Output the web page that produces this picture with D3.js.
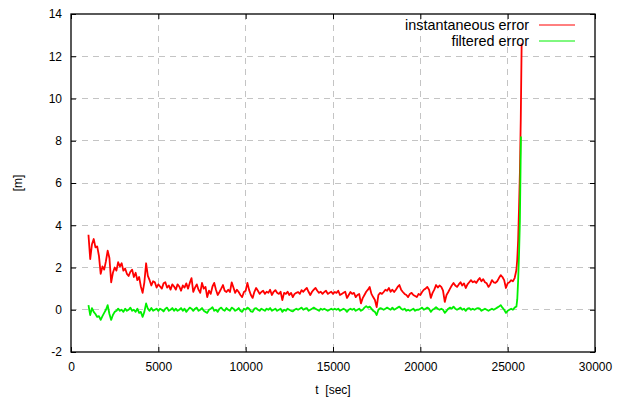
<!DOCTYPE html>
<html>
<head>
<meta charset="utf-8">
<script src="https://cdn.jsdelivr.net/npm/d3@7"></script>
<style>
  body { margin: 0; background: #fff; }
  svg { display: block; font-family: "Liberation Sans", Arial, sans-serif; }
</style>
</head>
<body>
<svg id="chart" width="624" height="403"></svg>
<script>
// sample times (sec), shared by both error series
const time = [
  1000, 1100, 1200, 1300, 1400, 1500, 1600, 1700, 1800, 1900,
  2000, 2100, 2200, 2300, 2400, 2500, 2600, 2700, 2800, 2900,
  3000, 3100, 3200, 3300, 3400, 3500, 3600, 3700, 3800, 3900,
  4000, 4100, 4200, 4300, 4400, 4500, 4600, 4700, 4800, 4900,
  5000, 5100, 5200, 5300, 5400, 5500, 5600, 5700, 5800, 5900,
  6000, 6100, 6200, 6300, 6400, 6500, 6600, 6700, 6800, 6900,
  7000, 7100, 7200, 7300, 7400, 7500, 7600, 7700, 7800, 7900,
  8000, 8100, 8200, 8300, 8400, 8500, 8600, 8700, 8800, 8900,
  9000, 9100, 9200, 9300, 9400, 9500, 9600, 9700, 9800, 9900,
  10000, 10100, 10200, 10300, 10400, 10500, 10600, 10700, 10800, 10900,
  11000, 11100, 11200, 11300, 11400, 11500, 11600, 11700, 11800, 11900,
  12000, 12100, 12200, 12300, 12400, 12500, 12600, 12700, 12800, 12900,
  13000, 13100, 13200, 13300, 13400, 13500, 13600, 13700, 13800, 13900,
  14000, 14100, 14200, 14300, 14400, 14500, 14600, 14700, 14800, 14900,
  15000, 15100, 15200, 15300, 15400, 15500, 15600, 15700, 15800, 15900,
  16000, 16100, 16200, 16300, 16400, 16500, 16600, 16700, 16800, 16900,
  17000, 17100, 17200, 17300, 17400, 17500, 17600, 17700, 17800, 17900,
  18000, 18100, 18200, 18300, 18400, 18500, 18600, 18700, 18800, 18900,
  19000, 19100, 19200, 19300, 19400, 19500, 19600, 19700, 19800, 19900,
  20000, 20100, 20200, 20300, 20400, 20500, 20600, 20700, 20800, 20900,
  21000, 21100, 21200, 21300, 21400, 21500, 21600, 21700, 21800, 21900,
  22000, 22100, 22200, 22300, 22400, 22500, 22600, 22700, 22800, 22900,
  23000, 23100, 23200, 23300, 23400, 23500, 23600, 23700, 23800, 23900,
  24000, 24100, 24200, 24300, 24400, 24500, 24600, 24700, 24800, 24900,
  25000, 25100, 25200, 25300, 25400, 25500
]

const instantaneousError = [
  3.55, 2.40, 3.10, 3.35, 2.95, 3.00, 2.55, 1.70, 2.05, 1.90,
  2.30, 2.80, 2.45, 1.30, 1.75, 2.00, 1.85, 2.25, 2.05, 2.20,
  1.85, 1.95, 1.70, 1.60, 1.80, 1.90, 1.55, 1.75, 1.40, 1.55,
  1.10, 0.80, 1.30, 2.20, 1.60, 1.40, 1.15, 1.35, 1.30, 1.05,
  1.20, 1.10, 1.00, 1.25, 1.30, 1.05, 1.15, 0.95, 1.20, 1.10,
  0.95, 1.20, 1.10, 0.90, 1.15, 1.05, 1.25, 1.00, 1.27, 1.50,
  0.85, 1.05, 1.20, 0.95, 0.80, 1.27, 1.00, 1.08, 0.60, 0.90,
  0.75, 1.10, 1.27, 0.95, 0.70, 0.84, 1.00, 1.17, 0.90, 0.84,
  0.95, 0.84, 1.30, 1.05, 0.80, 0.95, 0.84, 0.70, 0.60, 0.84,
  0.90, 1.27, 0.93, 0.70, 0.56, 0.85, 1.03, 0.90, 0.75, 0.84,
  0.90, 0.75, 0.85, 0.80, 0.95, 0.70, 0.85, 0.93, 0.80, 0.75,
  0.85, 0.46, 0.80, 0.75, 0.85, 0.70, 0.80, 0.60, 0.75, 0.80,
  0.84, 0.75, 0.93, 0.85, 0.95, 1.03, 0.85, 0.70, 0.85, 0.95,
  1.03, 0.90, 0.80, 0.85, 0.75, 0.84, 0.90, 0.75, 0.80, 0.85,
  0.75, 0.84, 0.80, 0.90, 0.70, 0.75, 0.80, 0.85, 0.56, 0.70,
  0.84, 0.75, 0.80, 0.60, 0.70, 0.75, 0.30, 0.55, 0.70, 0.85,
  0.95, 1.08, 0.75, 0.60, 0.46, 0.13, 0.70, 0.80, 0.75, 0.84,
  0.95, 0.90, 1.03, 0.85, 0.95, 0.84, 0.95, 1.08, 1.17, 0.95,
  0.84, 0.75, 0.70, 0.60, 0.75, 0.80, 0.70, 0.65, 0.60, 0.75,
  0.70, 0.84, 0.95, 1.00, 1.08, 0.95, 0.56, 0.80, 0.95, 1.17,
  1.05, 1.15, 1.08, 0.90, 0.37, 0.70, 0.84, 1.00, 1.15, 1.27,
  1.15, 1.08, 1.20, 1.30, 1.15, 1.25, 1.03, 1.20, 1.30, 1.40,
  1.30, 1.35, 1.27, 1.40, 1.50, 1.35, 1.45, 1.30, 1.25, 1.08,
  1.20, 1.40, 1.30, 1.27, 1.35, 1.50, 1.64, 1.55, 1.40, 1.03,
  1.25, 1.30, 1.40, 1.35, 1.50, 1.88
]

const filteredError = [
  0.22, -0.25, 0.08, -0.10, -0.20, -0.34, -0.30, -0.48, -0.30, -0.15,
  0.00, 0.22, -0.20, -0.48, -0.25, -0.10, -0.05, 0.05, -0.05, 0.00,
  -0.10, 0.05, -0.05, 0.00, 0.10, -0.05, 0.00, -0.10, 0.05, -0.15,
  -0.10, -0.34, -0.10, 0.30, 0.05, -0.05, 0.08, -0.05, 0.00, 0.05,
  -0.05, 0.05, 0.00, -0.08, 0.05, 0.10, -0.05, 0.00, 0.08, -0.05,
  0.05, -0.05, 0.00, 0.08, -0.05, 0.05, -0.10, 0.00, 0.10, 0.05,
  -0.05, 0.05, 0.10, -0.05, 0.00, 0.08, -0.05, -0.10, -0.15, 0.00,
  0.05, 0.12, -0.05, 0.00, -0.10, 0.05, 0.10, 0.00, -0.05, 0.08,
  0.00, -0.05, 0.10, 0.05, -0.05, 0.00, 0.08, -0.05, -0.10, 0.05,
  0.00, 0.10, 0.05, -0.08, -0.10, 0.05, 0.08, 0.00, -0.05, 0.05,
  0.00, -0.05, 0.05, 0.00, 0.08, -0.05, 0.00, 0.05, -0.05, 0.00,
  0.05, -0.10, 0.00, -0.05, 0.05, 0.00, -0.05, -0.08, 0.00, 0.05,
  0.00, 0.05, 0.10, 0.00, 0.05, 0.08, -0.05, 0.00, 0.05, 0.10,
  0.05, 0.00, -0.05, 0.05, 0.00, 0.05, 0.00, -0.05, 0.00, 0.05,
  0.00, 0.05, 0.00, 0.05, -0.05, 0.00, 0.05, 0.00, -0.10, 0.00,
  0.05, 0.00, 0.05, -0.05, 0.00, 0.05, -0.05, 0.00, 0.10, 0.17,
  0.10, 0.15, 0.05, -0.05, -0.10, -0.25, 0.00, 0.08, 0.05, 0.00,
  0.05, 0.10, 0.05, 0.00, 0.10, 0.00, 0.05, 0.10, 0.15, 0.05,
  0.00, 0.05, -0.05, 0.00, -0.05, 0.00, 0.05, -0.05, 0.00, 0.00,
  0.05, 0.10, 0.00, 0.05, 0.10, 0.05, -0.10, 0.00, 0.05, 0.12,
  0.05, 0.00, 0.05, 0.00, -0.15, -0.05, 0.05, 0.10, 0.05, 0.15,
  0.05, 0.00, 0.05, 0.10, 0.00, 0.05, -0.05, 0.05, 0.08, 0.00,
  0.05, 0.00, 0.05, 0.08, 0.05, -0.05, 0.00, 0.05, 0.00, -0.05,
  0.00, 0.05, 0.00, 0.05, 0.10, 0.15, 0.22, 0.10, 0.00, -0.15,
  -0.05, 0.00, 0.05, 0.00, 0.10, 0.15
]

// the blow-up at the end of the run
const instantaneousTailTime = [25550, 25600, 25650, 25700, 25750, 25800]
const instantaneousTail = [2.4, 3.3, 4.8, 6.5, 9.0, 12.6]
const filteredTailTime = [25550, 25600, 25650, 25700, 25760]
const filteredTail = [0.5, 1.4, 2.6, 4.2, 8.2]

const xTicks = [0, 5000, 10000, 15000, 20000, 25000, 30000]
const yTicks = [-2, 0, 2, 4, 6, 8, 10, 12, 14]

const series = [
  {
    name: 'instantaneous error',
    color: '#ff0000',
    t: time.concat(instantaneousTailTime),
    v: instantaneousError.concat(instantaneousTail),
  },
  {
    name: 'filtered error',
    color: '#00f000',
    t: time.concat(filteredTailTime),
    v: filteredError.concat(filteredTail),
  },
]

const margin = { top: 14, right: 29, bottom: 51, left: 71 }
const width = 624 - margin.left - margin.right
const height = 403 - margin.top - margin.bottom

const x = d3.scaleLinear().domain([0, 30000]).range([0, width])
const y = d3.scaleLinear().domain([-2, 14]).range([height, 0])

const svg = d3.select('#chart')
const g = svg.append('g').attr('transform', `translate(${ margin.left },${ margin.top })`)

// grid
g.append('g').selectAll('line')
  .data(xTicks.slice(1, -1))
  .enter().append('line')
  .attr('x1', d => x(d)).attr('x2', d => x(d))
  .attr('y1', 0).attr('y2', height)
g.append('g').selectAll('line')
  .data(yTicks.slice(1, -1))
  .enter().append('line')
  .attr('x1', 0).attr('x2', width)
  .attr('y1', d => y(d)).attr('y2', d => y(d))
g.selectAll('line')
  .attr('stroke', '#c4c4c4')
  .attr('stroke-width', 1)
  .attr('stroke-dasharray', '6,5')
  .attr('shape-rendering', 'crispEdges')

// axes, ticks pointing inward, mirrored on top/right
const tickLen = 5
const plain = d => String(d)
g.append('g')
  .attr('transform', `translate(0,${ height })`)
  .call(d3.axisBottom(x).tickValues(xTicks).tickSizeInner(-tickLen).tickSizeOuter(0).tickPadding(10).tickFormat(plain))
g.append('g')
  .call(d3.axisTop(x).tickValues(xTicks).tickSizeInner(-tickLen).tickSizeOuter(0).tickFormat(''))
g.append('g')
  .call(d3.axisLeft(y).tickValues(yTicks).tickSizeInner(-tickLen).tickSizeOuter(0).tickPadding(9).tickFormat(plain))
g.append('g')
  .attr('transform', `translate(${ width },0)`)
  .call(d3.axisRight(y).tickValues(yTicks).tickSizeInner(-tickLen).tickSizeOuter(0).tickFormat(''))

g.selectAll('.domain').remove()
g.selectAll('.tick line').attr('stroke', '#000')
g.selectAll('.tick text')
  .attr('fill', '#000')
  .style('font-size', '12px')
  .style('font-family', '"Liberation Sans", Arial, sans-serif')

// lines
const line = d3.line()
  .x(d => x(d[0]))
  .y(d => y(d[1]))

series.forEach(s => {
  g.append('path')
    .datum(d3.zip(s.t, s.v))
    .attr('fill', 'none')
    .attr('stroke', s.color)
    .attr('stroke-width', 1.8)
    .attr('stroke-linejoin', 'round')
    .attr('d', line)
})

// frame
g.append('rect')
  .attr('width', width).attr('height', height)
  .attr('fill', 'none')
  .attr('stroke', '#000')
  .attr('stroke-width', 1.3)

// legend
const legend = g.append('g')
series.forEach((s, i) => {
  const ly = 11 + i * 16
  legend.append('text')
    .attr('x', 458).attr('y', ly)
    .attr('dy', '0.35em')
    .attr('text-anchor', 'end')
    .style('font-size', '14.4px')
    .text(s.name)
  legend.append('line')
    .attr('x1', 468).attr('x2', 504)
    .attr('y1', ly).attr('y2', ly)
    .attr('stroke', s.color)
    .attr('stroke-width', 1)
})

// axis labels
svg.append('text')
  .attr('x', margin.left + x(15000))
  .attr('y', 394)
  .attr('text-anchor', 'middle')
  .attr('xml:space', 'preserve')
  .style('font-size', '12px')
  .text('t  [sec]')

svg.append('text')
  .attr('transform', `translate(22,${ margin.top + y(6) }) rotate(-90)`)
  .attr('text-anchor', 'middle')
  .style('font-size', '12px')
  .text('[m]')
</script>
</body>
</html>
